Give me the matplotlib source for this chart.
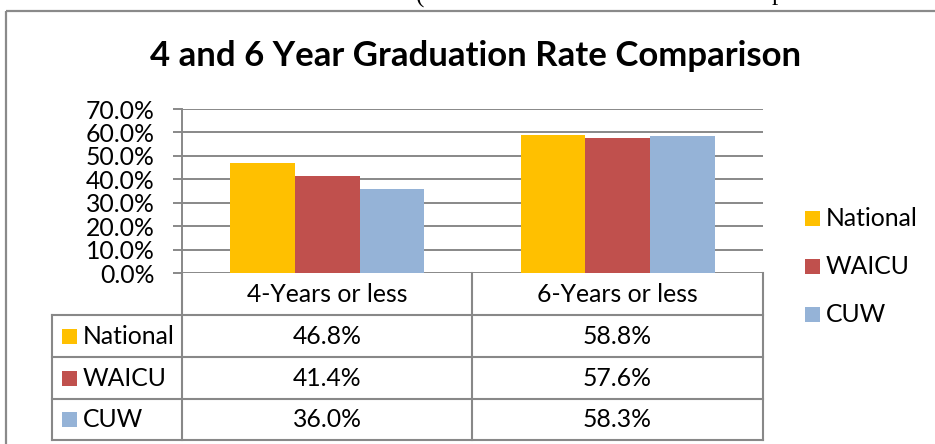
import matplotlib
matplotlib.use("Agg")
import matplotlib.pyplot as plt
from matplotlib.patches import Rectangle
import numpy as np

categories = ["4-Years or less", "6-Years or less"]
series = ["National", "WAICU", "CUW"]
national = [46.8, 58.8]
waicu = [41.4, 57.6]
cuw = [36.0, 58.3]
values = [national, waicu, cuw]
colors = ["#FFC000", "#C0504D", "#95B3D7"]
yticks = [0, 10, 20, 30, 40, 50, 60, 70]
title = "4 and 6 Year Graduation Rate Comparison"

W, H = 935, 444
plt.rcParams['font.family'] = ['Lato', 'DejaVu Sans']
gray = '#888888'
fs = 17.8

fig = plt.figure(figsize=(W/100, H/100), dpi=100)

def fx(x):
    return x/W
def fy(y):
    return 1 - y/H

# pixel canvas for border, title, table and legend
cv = fig.add_axes([0, 0, 1, 1])
cv.set_xlim(0, W)
cv.set_ylim(H, 0)
cv.axis('off')

# bits of the page text that sit above the chart (cut off in the original)
cv.text(420, -4, "(", family='Liberation Serif', fontsize=18, ha='center', va='center')
cv.text(778, -6, "p", family='Liberation Serif', fontsize=18, ha='center', va='center')

# chart border
cv.add_patch(Rectangle((6, 11), W, H, fill=False, ec='#8a8a8a', lw=1.6))

cv.text(476, 56, title, fontsize=25, fontweight='bold', ha='center', va='center')

# bar chart
left, right, top, bottom = 182, 763, 109, 273
ax = fig.add_axes([fx(left), fy(bottom), (right-left)/W, (bottom-top)/H])
x = np.arange(len(categories))
bw = 1/4.5
for i, (s, v) in enumerate(zip(series, values)):
    ax.bar(x + (i-1)*bw, v, bw, color=colors[i], label=s, zorder=3)
ax.set_xlim(-0.5, len(categories)-0.5)
ax.set_ylim(0, 70)
ax.set_yticks(yticks)
ax.set_yticklabels(["%.1f%%" % t for t in yticks])
ax.yaxis.grid(True, color=gray, lw=1.4)
ax.set_axisbelow(True)
ax.set_xticks([])
for sp in ['top', 'right', 'bottom']:
    ax.spines[sp].set_visible(False)
ax.spines['left'].set_color(gray)
ax.spines['left'].set_linewidth(1.4)
ax.tick_params(axis='y', direction='out', length=6.5, width=1.4, color=gray,
               labelsize=fs, pad=13)
ax.patch.set_alpha(0)

# data table under the chart
col_x = [52, 182, 472, 763]
row_y = [273, 315, 357, 399, 440]
lw = 1.5
cv.plot([182, 182], [273, 440], color=gray, lw=lw)
cv.plot([472, 472], [273, 440], color=gray, lw=lw)
cv.plot([763, 763], [273, 440], color=gray, lw=lw)
cv.plot([52, 52], [315, 440], color=gray, lw=lw)
for yy in row_y[1:]:
    cv.plot([52, 763], [yy, yy], color=gray, lw=lw)
for j, c in enumerate(categories):
    cx = (col_x[j+1] + col_x[j+2]) / 2
    cv.text(cx, (row_y[0]+row_y[1])/2, c, fontsize=fs, ha='center', va='center')
for i, s in enumerate(series):
    cy = (row_y[i+1] + row_y[i+2]) / 2
    cv.add_patch(Rectangle((62, cy-7.5), 15, 15, color=colors[i], lw=0))
    cv.text(83, cy, s, fontsize=fs, ha='left', va='center')
    for j in range(len(categories)):
        cx = (col_x[j+1] + col_x[j+2]) / 2
        cv.text(cx, cy, "%.1f%%" % values[i][j], fontsize=fs, ha='center', va='center')

# legend on the right
leg_y = [218, 266, 314]
for i, s in enumerate(series):
    cv.add_patch(Rectangle((805, leg_y[i]-7.5), 15, 15, color=colors[i], lw=0))
    cv.text(826, leg_y[i], s, fontsize=fs, ha='left', va='center')

fig.savefig("out.png", dpi=100)
